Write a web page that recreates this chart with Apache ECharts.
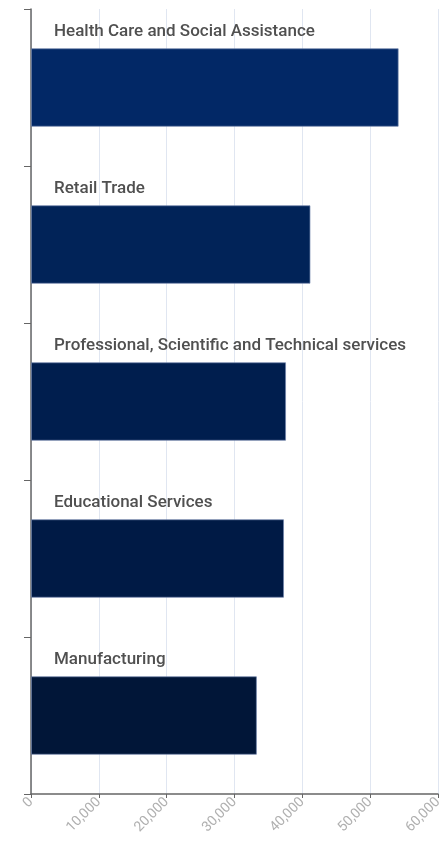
<!DOCTYPE html>
<html>
<head>
<meta charset="utf-8">
<script src="https://cdn.jsdelivr.net/npm/echarts@6/dist/echarts.min.js"></script>
<style>
html,body{margin:0;padding:0;background:#fff;}
#chart{width:448px;height:844px;}
</style>
</head>
<body>
<div id="chart"></div>
<script>
const categories = [
  "Health Care and Social Assistance",
  "Retail Trade",
  "Professional, Scientific and Technical services",
  "Educational Services",
  "Manufacturing"
];
const values = [54200, 41200, 37600, 37300, 33300];
const barColors = ["#022866", "#012358", "#001e4e", "#001a45", "#011638"];
const xTicks = [0, 10000, 20000, 30000, 40000, 50000, 60000];

const chart = echarts.init(document.getElementById('chart'));
chart.setOption({
  animation: false,
  grid: { left: 31, right: 10, top: 9, bottom: 50, containLabel: false },
  xAxis: {
    type: 'value',
    min: xTicks[0],
    max: xTicks[xTicks.length - 1],
    interval: 10000,
    axisLine: { show: true, lineStyle: { color: '#666', width: 1.5 } },
    axisTick: { show: true, length: 4, lineStyle: { color: '#666' } },
    splitLine: { show: true, lineStyle: { color: '#e0e6f1' } },
    axisLabel: {
      rotate: 45,
      color: '#b0b0b0',
      fontSize: 14,
      fontFamily: 'Roboto',
      margin: 6,
      formatter: v => v.toLocaleString('en-US')
    }
  },
  yAxis: {
    type: 'category',
    inverse: true,
    data: categories,
    axisLine: { show: true, lineStyle: { color: '#666', width: 1.5 } },
    axisTick: { show: true, length: 7, lineStyle: { color: '#666' } },
    axisLabel: { show: false }
  },
  series: [{
    type: 'bar',
    barWidth: '50%',
    data: values.map((v, i) => ({ value: v, itemStyle: { color: barColors[i] } })),
    itemStyle: { borderColor: 'rgba(110,130,170,0.7)', borderWidth: 1 },
    label: {
      show: true,
      position: [23, -17],
      verticalAlign: 'middle',
      align: 'left',
      color: '#505050',
      fontSize: 17,
      fontWeight: 500,
      fontFamily: 'Roboto',
      formatter: p => categories[p.dataIndex]
    }
  }]
});
</script>
</body>
</html>
